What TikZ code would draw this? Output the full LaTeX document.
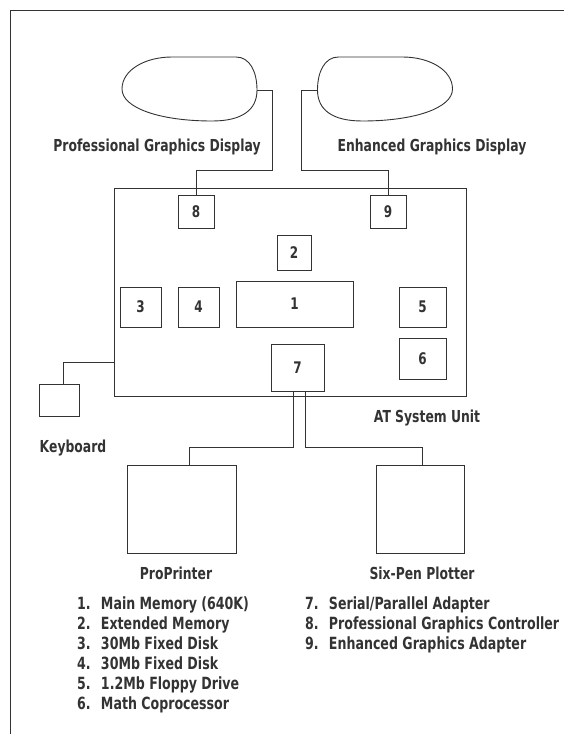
\documentclass[tikz,border=0pt]{standalone}
\usepackage{fontspec}
\newfontfamily\pcfont{DejaVu Sans}[FakeStretch=0.75]
\usepackage{xcolor}
\usetikzlibrary{positioning}
\definecolor{ink}{HTML}{333333}

\begin{document}
\begin{tikzpicture}[
    x=1pt, y=-1pt,
    unit/.style={rectangle, draw=ink, line width=0.9pt, inner sep=0pt, text=ink, font=\pcfont\bfseries\fontsize{16}{18}\selectfont},
    lbl/.style={inner sep=0pt, text=ink, font=\pcfont\bfseries\fontsize{16.5}{18}\selectfont},
    lst/.style={anchor=base west, inner sep=0pt, text=ink, font=\pcfont\bfseries\fontsize{16.8}{20}\selectfont},
    wire/.style={draw=ink, line width=0.9pt}
]
\useasboundingbox (0,0) rectangle (564,734);

% --- page frame ---
\draw[wire] (564,10) -- (10,10) -- (10,734);

% --- displays ---
\draw[wire] (172,57) -- (236,57) .. controls (250,57) and (257,72) .. (257,90)
    .. controls (257,110) and (242,121) .. (212,121)
    .. controls (160,121) and (122,108) .. (122,89)
    .. controls (122,70) and (145,57) .. (172,57) -- cycle;
\coordinate (pgd) at (257,90);
\draw[wire] (402.5,57) -- (338.5,57) .. controls (324.5,57) and (317.5,72) .. (317.5,90)
    .. controls (317.5,110) and (332.5,121) .. (362.5,121)
    .. controls (414.5,121) and (452.5,108) .. (452.5,89)
    .. controls (452.5,70) and (429.5,57) .. (402.5,57) -- cycle;
\coordinate (egd) at (317.5,90);
\node[lbl] (pgdlbl) at (157,147) {Professional Graphics Display};
\node[lbl] (egdlbl) at (432,147) {Enhanced Graphics Display};

% --- system unit ---
\node[unit, minimum width=352pt, minimum height=208pt] (at) at (290,292) {};
\node[unit, minimum width=36pt, minimum height=33pt] (b8) at (196,211.5) {8};
\node[unit, minimum width=36pt, minimum height=33pt] (b9) at (388,211.5) {9};
\node[unit, minimum width=34pt, minimum height=35pt] (b2) at (294,252.5) {2};
\node[unit, minimum width=41pt, minimum height=40pt] (b3) at (140.5,307) {3};
\node[unit, minimum width=41pt, minimum height=40pt] (b4) at (198.5,307) {4};
\node[unit, minimum width=117pt, minimum height=46pt] (b1) at (294.5,304) {1};
\node[unit, minimum width=47pt, minimum height=40pt] (b5) at (422.5,307) {5};
\node[unit, minimum width=47pt, minimum height=41pt] (b6) at (422.5,358.5) {6};
\node[unit, minimum width=53pt, minimum height=47pt] (b7) at (297.5,367.5) {7};
\node[lbl] (atlbl) at (427,418) {AT System Unit};

\draw[wire] (pgd) -- ++(15,0) |- ([yshift=24pt]b8.north) -- (b8.north);
\draw[wire] (egd) -- ++(-16,0) |- ([yshift=24pt]b9.north) -- (b9.north);

% --- keyboard ---
\node[unit, minimum width=40pt, minimum height=32pt] (kbd) at (59,400) {};
\node[lbl] (kbdlbl) at (73,448) {Keyboard};
\draw[wire] ([yshift=-70pt]at.west) -| ([xshift=4pt]kbd.north);

% --- printer and plotter ---
\node[unit, minimum width=109pt, minimum height=88pt] (prn) at (181.5,509) {};
\node[unit, minimum width=88pt, minimum height=88pt] (plt) at (420,509) {};
\node[lbl] (prnlbl) at (176,573) {ProPrinter};
\node[lbl] (pltlbl) at (422,573) {Six-Pen Plotter};
\draw[wire] ([xshift=-4pt]b7.south) |- ([xshift=8pt,yshift=17pt]prn.north) -- ([xshift=8pt]prn.north);
\draw[wire] ([xshift=8pt]b7.south) |- ([xshift=2pt,yshift=17pt]plt.north) -- ([xshift=2pt]plt.north);

% --- key ---
\foreach \txt [count=\i] in {1.~ Main Memory (640K), 2.~ Extended Memory, 3.~ 30Mb Fixed Disk,
    4.~ 30Mb Fixed Disk, 5.~ 1.2Mb Floppy Drive, 6.~ Math Coprocessor}
  \node[lst] (key\i) at (77,589+20*\i) {\txt};
\foreach \txt [count=\i from 7] in {7.~ Serial/Parallel Adapter, 8.~ Professional Graphics Controller,
    9.~ Enhanced Graphics Adapter}
  \node[lst] (key\i) at (305,469+20*\i) {\txt};
\end{tikzpicture}
\end{document}
